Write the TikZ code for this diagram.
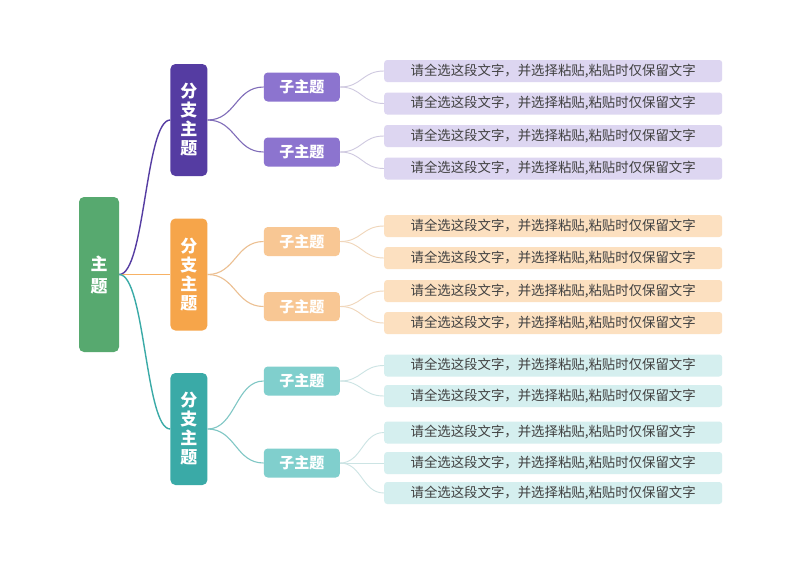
\documentclass[tikz,border=0pt]{standalone}
\usepackage{fontspec}
\setmainfont{Noto Sans CJK SC}
\usetikzlibrary{positioning}
\definecolor{verde}{RGB}{87,169,111}
\definecolor{moradoA}{RGB}{85,60,162}
\definecolor{moradoB}{RGB}{140,116,207}
\definecolor{moradoC}{RGB}{221,214,241}
\definecolor{naranjaA}{RGB}{246,165,74}
\definecolor{naranjaB}{RGB}{248,199,148}
\definecolor{naranjaC}{RGB}{252,224,192}
\definecolor{tealA}{RGB}{58,170,167}
\definecolor{tealB}{RGB}{128,207,205}
\definecolor{tealC}{RGB}{213,239,239}
\definecolor{texto}{RGB}{64,64,64}

\begin{document}
\begin{tikzpicture}[x=1pt,y=1pt,
topic/.style={fill=verde,rounded corners=5pt,minimum width=40pt,minimum height=155pt,inner sep=0pt,align=center,text=white,font=\fontsize{17}{22}\selectfont\bfseries},
branch/.style={rounded corners=5pt,minimum width=37pt,minimum height=112pt,inner sep=0pt,align=center,text=white,font=\fontsize{17}{19}\selectfont\bfseries},
sub/.style={rounded corners=4pt,minimum width=76pt,minimum height=29pt,inner sep=0pt,text=white,font=\fontsize{15}{17}\selectfont\bfseries},
leaf/.style={rounded corners=3pt,minimum width=338pt,minimum height=22pt,inner sep=0pt,text=texto,font=\fontsize{13.4}{15}\selectfont},
lnA/.style={line width=1.4pt},
lnB/.style={line width=1.1pt},
lnC/.style={line width=0.9pt}
]
\useasboundingbox[fill=white] (0,0) rectangle (800,-566);

\node[topic] (t) at (99,-274.5) {主\\题};

\node[branch,fill=moradoA,right=51pt of t,yshift=154.5pt] (b1) {分\\支\\主\\题};
\node[branch,fill=naranjaA,right=51pt of t] (b2) {分\\支\\主\\题};
\node[branch,fill=tealA,right=51pt of t,yshift=-154.5pt] (b3) {分\\支\\主\\题};

\node[sub,fill=moradoB,right=56pt of b1,yshift=33pt] (s1) {子主题};
\node[sub,fill=moradoB,right=56pt of b1,yshift=-32pt] (s2) {子主题};
\node[sub,fill=naranjaB,right=56pt of b2,yshift=33pt] (s3) {子主题};
\node[sub,fill=naranjaB,right=56pt of b2,yshift=-32pt] (s4) {子主题};
\node[sub,fill=tealB,right=56pt of b3,yshift=48pt] (s5) {子主题};
\node[sub,fill=tealB,right=56pt of b3,yshift=-34pt] (s6) {子主题};

\node[leaf,fill=moradoC,right=44pt of s1,yshift=16pt] (h1) {请全选这段文字，并选择粘贴,粘贴时仅保留文字};
\node[leaf,fill=moradoC,right=44pt of s1,yshift=-16.5pt] (h2) {请全选这段文字，并选择粘贴,粘贴时仅保留文字};
\node[leaf,fill=moradoC,right=44pt of s2,yshift=16pt] (h3) {请全选这段文字，并选择粘贴,粘贴时仅保留文字};
\node[leaf,fill=moradoC,right=44pt of s2,yshift=-16.5pt] (h4) {请全选这段文字，并选择粘贴,粘贴时仅保留文字};
\node[leaf,fill=naranjaC,right=44pt of s3,yshift=15.5pt] (h5) {请全选这段文字，并选择粘贴,粘贴时仅保留文字};
\node[leaf,fill=naranjaC,right=44pt of s3,yshift=-16.5pt] (h6) {请全选这段文字，并选择粘贴,粘贴时仅保留文字};
\node[leaf,fill=naranjaC,right=44pt of s4,yshift=15.5pt] (h7) {请全选这段文字，并选择粘贴,粘贴时仅保留文字};
\node[leaf,fill=naranjaC,right=44pt of s4,yshift=-16.5pt] (h8) {请全选这段文字，并选择粘贴,粘贴时仅保留文字};
\node[leaf,fill=tealC,right=44pt of s5,yshift=15.5pt] (h9) {请全选这段文字，并选择粘贴,粘贴时仅保留文字};
\node[leaf,fill=tealC,right=44pt of s5,yshift=-15pt] (h10) {请全选这段文字，并选择粘贴,粘贴时仅保留文字};
\node[leaf,fill=tealC,right=44pt of s6,yshift=30.5pt] (h11) {请全选这段文字，并选择粘贴,粘贴时仅保留文字};
\node[leaf,fill=tealC,right=44pt of s6] (h12) {请全选这段文字，并选择粘贴,粘贴时仅保留文字};
\node[leaf,fill=tealC,right=44pt of s6,yshift=-30pt] (h13) {请全选这段文字，并选择粘贴,粘贴时仅保留文字};

% topic to branches
\foreach \b/\c in {b1/moradoA,b2/naranjaA!85,b3/tealA}
  \draw[lnA,draw=\c] (t.east) .. controls +(26,0) and +(-25,0) .. (\b.west);

% branches to subtopics
\foreach \b/\s/\c in {b1/s1/moradoA!75,b1/s2/moradoA!75,b2/s3/naranjaB!90!gray,b2/s4/naranjaB!90!gray,b3/s5/tealB!90!gray,b3/s6/tealB!90!gray}
  \draw[lnB,draw=\c] (\b.east) .. controls +(28,0) and +(-28,0) .. (\s.west);

% subtopics to leaves
\foreach \s/\h/\c in {s1/h1/moradoC!85!gray,s1/h2/moradoC!85!gray,s2/h3/moradoC!85!gray,s2/h4/moradoC!85!gray,
  s3/h5/naranjaC!90!gray,s3/h6/naranjaC!90!gray,s4/h7/naranjaC!90!gray,s4/h8/naranjaC!90!gray,
  s5/h9/tealC!90!gray,s5/h10/tealC!90!gray,s6/h11/tealC!90!gray,s6/h12/tealC!90!gray,s6/h13/tealC!90!gray}
  \draw[lnC,draw=\c] (\s.east) .. controls +(22,0) and +(-22,0) .. (\h.west);
\end{tikzpicture}
\end{document}
